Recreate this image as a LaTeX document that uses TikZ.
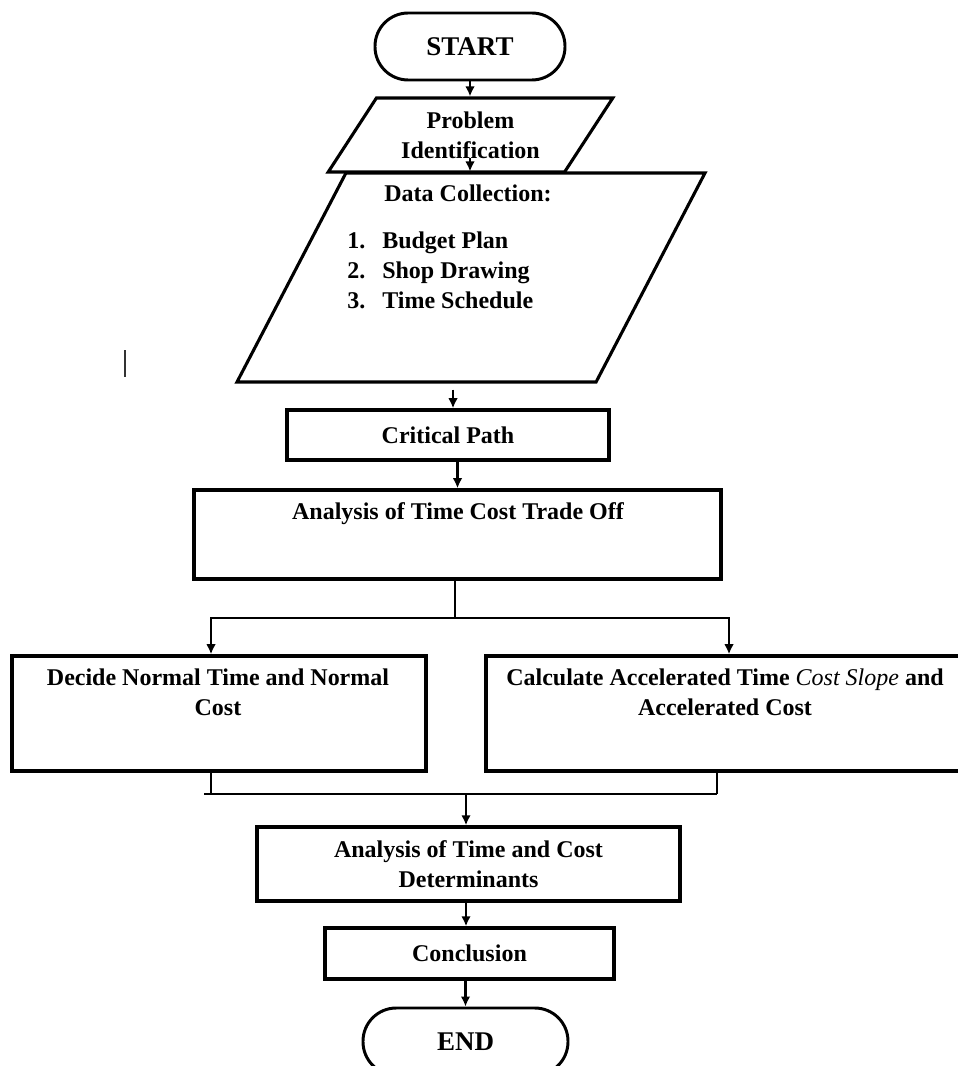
\documentclass[tikz,border=0pt]{standalone}
\usepackage{fontspec}
\setmainfont{Liberation Serif}
\usepackage{tikz}
\usetikzlibrary{positioning,arrows.meta,shapes.geometric,calc}

\begin{document}
\begin{tikzpicture}[
  font=\fontsize{17.07}{21.34}\selectfont\bfseries,
  term/.style={draw, line width=2.1pt, rounded corners=0.83cm, minimum height=1.675cm,
               font=\fontsize{19.2}{23}\selectfont\bfseries},
  para/.style={draw, line width=2.2pt, trapezium, trapezium stretches=true,
               inner sep=1pt, align=center},
  box/.style={draw, line width=2.5pt, align=center, inner sep=0pt},
  txt/.style={align=center, inner sep=0pt},
  line/.style={line width=2.1pt},
  arr/.style={line, -{Latex[length=0.25cm, width=0.24cm]}}
]
  \useasboundingbox (0,0) rectangle (23.925,-26.65);

  \node[term, minimum width=4.75cm] (start) at (11.75,-1.1625) {START};
  \node[para, trapezium left angle=53.9, trapezium right angle=126.1,
        minimum width=7.125cm, minimum height=1.85cm] (prob) at (11.7625,-3.375)
    {Problem\\ Identification};
  \node[para, trapezium left angle=66.47, trapezium right angle=113.53,
        minimum width=11.7cm, minimum height=5.225cm] (data) at (11.775,-6.9375) {};
  \node[txt] (datahead) at (11.7,-4.825) {Data Collection:};
  \node[txt, anchor=north west] (datalist) at (8.675,-5.675)
    {\begin{tabular}{@{}l@{\hspace{0.425cm}}l@{}}
       1. & Budget Plan\\
       2. & Shop Drawing\\
       3. & Time Schedule
     \end{tabular}};
  % stray mark on the left
  \draw[line width=1.4pt, black!80] (3.125,-8.75) -- (3.125,-9.425);

  \node[box, minimum width=8.05cm, minimum height=1.25cm] (crit) at (11.2,-10.875)
    {Critical Path};
  \node[box, minimum width=13.175cm, minimum height=2.225cm] (tco) at (11.4375,-13.3625) {};
  \node[txt] (tcotext) at (11.45,-12.85) {Analysis of Time Cost Trade Off};

  \node[box, minimum width=10.35cm, minimum height=2.875cm] (dec) at (5.475,-17.8375) {};
  \node[txt] (dectext) at (5.45,-17.3) {Decide Normal Time and Normal\\ Cost};
  \node[box, minimum width=11.95cm, minimum height=2.875cm] (calc) at (18.125,-17.8375) {};
  \node[txt] (calctext) at (18.125,-17.3)
    {Calculate Accelerated Time {\mdseries\itshape Cost Slope} and\\ Accelerated Cost};

  \node[box, minimum width=10.575cm, minimum height=1.85cm] (tcd) at (11.7125,-21.6)
    {Analysis of Time and Cost\\ Determinants};
  \node[box, minimum width=7.225cm, minimum height=1.275cm] (concl) at (11.7375,-23.8375)
    {Conclusion};
  \node[term, minimum width=5.125cm] (end) at (11.6375,-26.0375) {END};

  \coordinate (split) at (11.375,-15.45);
  \coordinate (merge) at (11.65,-19.85);

  \draw[arr] (start.south) -- (start.south |- prob.north);
  \draw[arr] ([yshift=0.4cm]start.south |- prob.south) -- (start.south |- data.north);
  \draw[arr] ([xshift=0.125cm,yshift=-0.15cm]crit.north |- data.south) -- ([xshift=0.125cm]crit.north);
  \draw[arr] (tco.north |- crit.south) -- (tco.north);
  \draw[line] (split |- tco.south) -- (split);
  \draw[arr] (split) -| ([xshift=-0.2cm]dec.north);
  \draw[arr] (split) -| ([xshift=0.1cm]calc.north);
  \draw[line] ([xshift=-0.2cm]dec.south) -- ([xshift=-0.2cm]dec.south |- merge);
  \draw[line] ([xshift=-0.2cm]calc.south) -- ([xshift=-0.2cm]calc.south |- merge);
  \draw[line] ([xshift=-0.375cm]dec.south |- merge) -- ([xshift=-0.2cm]calc.south |- merge);
  \draw[arr] (merge) -- (merge |- tcd.north);
  \draw[arr] (merge |- tcd.south) -- (merge |- concl.north);
  \draw[arr] (end.north |- concl.south) -- (end.north);
\end{tikzpicture}
\end{document}
